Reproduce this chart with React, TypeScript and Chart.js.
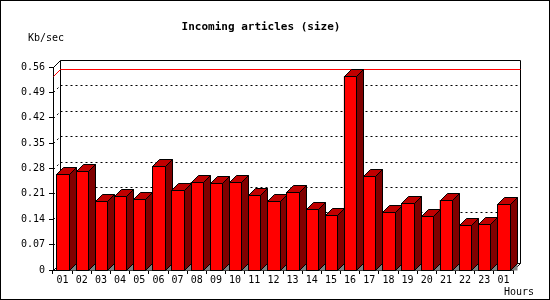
import React, { useEffect, useRef } from 'react';
import { Chart, registerables } from 'chart.js';

Chart.register(...registerables);

const hours = ['01', '02', '03', '04', '05', '06', '07', '08', '09', '10', '11', '12', '13', '14', '15', '16', '17', '18', '19', '20', '21', '22', '23', '01'];
const kbPerSec = [0.265, 0.273, 0.19, 0.204, 0.196, 0.287, 0.221, 0.243, 0.24, 0.243, 0.206, 0.19, 0.215, 0.168, 0.153, 0.534, 0.258, 0.159, 0.184, 0.148, 0.193, 0.124, 0.126, 0.181];
const gridValues = [0.07, 0.14, 0.21, 0.28, 0.35, 0.42, 0.49];
const yMax = 0.56;
const yStep = 0.07;
const chartTitle = 'Incoming articles (size)';
const yUnit = 'Kb/sec';
const xUnit = 'Hours';

const DEPTH = 7;
const MONO = '"DejaVu Sans Mono", monospace';

const threeD = {
  id: 'threeD',
  beforeDraw(chart: any) {
    const ctx = chart.ctx;
    ctx.save();
    ctx.fillStyle = '#ffffff';
    ctx.fillRect(0, 0, chart.width, chart.height);
    ctx.strokeStyle = '#000';
    ctx.lineWidth = 1;
    ctx.strokeRect(0.5, 0.5, chart.width - 1, chart.height - 1);
    ctx.fillStyle = '#000';
    ctx.font = 'bold 11px ' + MONO;
    ctx.textAlign = 'center';
    ctx.textBaseline = 'alphabetic';
    ctx.fillText(chartTitle, 261, 30);
    ctx.font = '10px ' + MONO;
    ctx.textAlign = 'left';
    ctx.fillText(yUnit, 28, 41);
    ctx.fillText(xUnit, 504, 295);
    ctx.restore();
  },
  beforeDatasetsDraw(chart: any) {
    const { ctx, chartArea, scales } = chart;
    const y = scales.y;
    const L = Math.round(chartArea.left) + 0.5;
    const R = Math.round(chartArea.right) + 0.5;
    const T = Math.round(chartArea.top) + 0.5;
    const B = Math.round(chartArea.bottom) + 0.5;
    const D = DEPTH;
    ctx.save();
    ctx.lineWidth = 1;
    ctx.strokeStyle = '#000';
    const line = (x1: number, y1: number, x2: number, y2: number) => {
      ctx.beginPath();
      ctx.moveTo(x1, y1);
      ctx.lineTo(x2, y2);
      ctx.stroke();
    };
    // back wall
    line(L + D, T - D, R + D, T - D);
    line(R + D, T - D, R + D, B - D);
    line(L + D, T - D, L + D, B - D);
    line(L, T, L + D, T - D);
    line(L, B, L + D, B - D);
    line(R, B, R + D, B - D);
    line(L + D, B - D, R + D, B - D);
    // dotted grid
    ctx.setLineDash([2, 3]);
    for (const v of gridValues) {
      const py = Math.round(y.getPixelForValue(v)) + 0.5;
      line(L + D, py - D, R + D, py - D);
      line(L, py, L + D, py - D);
    }
    ctx.setLineDash([]);
    // max line
    const maxV = Math.max(...kbPerSec);
    const my = Math.round(y.getPixelForValue(maxV)) + 0.5;
    ctx.strokeStyle = '#ff0000';
    line(L + D, my - D, R + D, my - D);
    line(L, my, L + D, my - D);
    ctx.restore();
  },
  afterDatasetsDraw(chart: any) {
    const ctx = chart.ctx;
    const meta = chart.getDatasetMeta(0);
    const D = DEPTH;
    ctx.save();
    ctx.lineWidth = 1;
    ctx.strokeStyle = '#000';
    for (const el of meta.data as any[]) {
      const p = el.getProps(['x', 'y', 'base', 'width'], true);
      const xl = Math.round(p.x - p.width / 2);
      const xr = Math.round(p.x + p.width / 2);
      const yt = Math.round(p.y);
      const yb = Math.round(p.base);
      // gray floor shadow
      ctx.fillStyle = '#808080';
      ctx.beginPath();
      ctx.moveTo(xr, yb + 0.5);
      ctx.lineTo(xr + D + 0.5, yb - D + 0.5);
      ctx.lineTo(xr + D + 0.5, yb + 0.5);
      ctx.closePath();
      ctx.fill();
      // front
      ctx.fillStyle = '#ff0000';
      ctx.fillRect(xl, yt, xr - xl, yb - yt);
      ctx.strokeRect(xl + 0.5, yt + 0.5, xr - xl, yb - yt);
      // side
      ctx.fillStyle = '#800000';
      ctx.beginPath();
      ctx.moveTo(xr + 0.5, yt + 0.5);
      ctx.lineTo(xr + D + 0.5, yt - D + 0.5);
      ctx.lineTo(xr + D + 0.5, yb - D + 0.5);
      ctx.lineTo(xr + 0.5, yb + 0.5);
      ctx.closePath();
      ctx.fill();
      ctx.stroke();
      // top
      ctx.fillStyle = '#c00000';
      ctx.beginPath();
      ctx.moveTo(xl + 0.5, yt + 0.5);
      ctx.lineTo(xl + D + 0.5, yt - D + 0.5);
      ctx.lineTo(xr + D + 0.5, yt - D + 0.5);
      ctx.lineTo(xr + 0.5, yt + 0.5);
      ctx.closePath();
      ctx.fill();
      ctx.stroke();
    }
    ctx.restore();
  },
};

export default function App() {
  const ref = useRef<HTMLCanvasElement | null>(null);
  useEffect(() => {
    if (!ref.current) return;
    const chart = new Chart(ref.current, {
      type: 'bar',
      data: {
        labels: hours,
        datasets: [
          {
            data: kbPerSec,
            backgroundColor: '#ff0000',
            borderColor: '#000',
            borderWidth: 0,
            barPercentage: 0.65,
            categoryPercentage: 1,
          },
        ],
      },
      options: {
        animation: false,
        responsive: false,
        devicePixelRatio: 1,
        layout: { padding: { top: 67, right: 37, left: 0, bottom: 0 } },
        plugins: { legend: { display: false }, tooltip: { enabled: false }, title: { display: false } },
        scales: {
          x: {
            afterFit: (s: any) => {
              s.height = 30;
            },
            grid: { drawOnChartArea: false, tickLength: 4, color: '#000', offset: true },
            border: { display: true, color: '#000' },
            ticks: { color: '#000', font: { family: MONO, size: 10 }, padding: 0, maxRotation: 0, autoSkip: false },
          },
          y: {
            min: 0,
            max: yMax,
            afterFit: (s: any) => {
              s.width = 53;
            },
            grid: { drawOnChartArea: false, tickLength: 4, color: '#000' },
            border: { display: true, color: '#000' },
            ticks: {
              stepSize: yStep,
              color: '#000',
              padding: 4,
              font: { family: MONO, size: 10 },
              callback: (v: any) => (Number(v) === 0 ? '0' : Number(v).toFixed(2)),
            },
          },
        },
      },
      plugins: [threeD],
    });
    return () => chart.destroy();
  }, []);
  return (
    <div style={{ position: 'absolute', left: 0, top: 0, width: 550, height: 300 }}>
      <canvas ref={ref} width={550} height={300} style={{ display: 'block', width: 550, height: 300 }} />
    </div>
  );
}
